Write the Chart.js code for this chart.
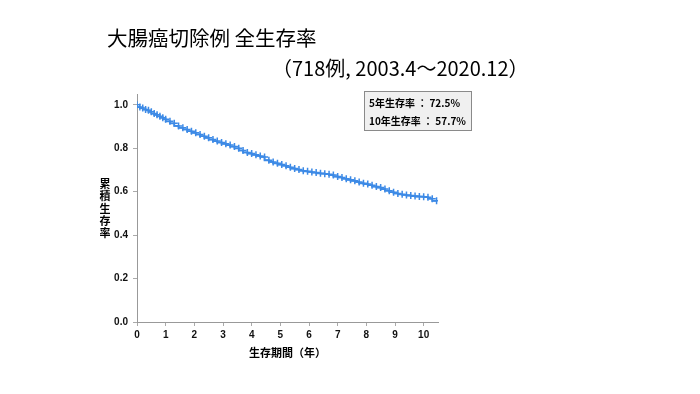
<!DOCTYPE html>
<html>
<head>
<meta charset="utf-8">
<script src="https://cdn.jsdelivr.net/npm/chart.js@4"></script>
<style>
  html, body { margin: 0; padding: 0; background: #fff; }
  #wrap { width: 700px; height: 394px; }
</style>
</head>
<body>
<div id="wrap"><canvas id="km" width="700" height="394"></canvas></div>
<script>
// Kaplan-Meier overall survival
const years = [0, 0.1, 0.2, 0.3, 0.4, 0.5, 0.6, 0.7, 0.8, 0.9, 1.0, 1.15, 1.3, 1.45, 1.6, 1.75, 1.9, 2.05, 2.2, 2.35,
    2.5, 2.65, 2.8, 2.95, 3.1, 3.25, 3.4, 3.55, 3.7, 3.85, 4.0, 4.15, 4.3, 4.45, 4.6, 4.75, 4.9, 5.05, 5.2, 5.35,
    5.5, 5.65, 5.8, 5.95, 6.1, 6.25, 6.4, 6.55, 6.7, 6.85, 7.0, 7.15, 7.3, 7.45, 7.6, 7.75, 7.9, 8.05, 8.2, 8.35,
    8.5, 8.65, 8.8, 8.95, 9.1, 9.25, 9.4, 9.55, 9.7, 9.85, 10.0, 10.15, 10.3, 10.45];
const survival = [1.000, 0.990, 0.985, 0.979, 0.975, 0.968, 0.960, 0.954, 0.947, 0.941, 0.934, 0.924, 0.915, 0.903, 0.894, 0.887, 0.879, 0.871, 0.864, 0.856,
    0.848, 0.840, 0.833, 0.827, 0.821, 0.815, 0.808, 0.800, 0.790, 0.781, 0.776, 0.770, 0.765, 0.760, 0.745, 0.737, 0.731, 0.725, 0.720, 0.713,
    0.707, 0.702, 0.697, 0.694, 0.691, 0.688, 0.685, 0.683, 0.681, 0.677, 0.670, 0.666, 0.660, 0.655, 0.650, 0.645, 0.639, 0.635, 0.630, 0.624,
    0.619, 0.612, 0.605, 0.598, 0.592, 0.588, 0.585, 0.582, 0.580, 0.578, 0.577, 0.575, 0.568, 0.558];
const xTicks = [0, 1, 2, 3, 4, 5, 6, 7, 8, 9, 10];
const yTicks = [0, 0.2, 0.4, 0.6, 0.8, 1.0];
const titleText = '大腸癌切除例 全生存率';
const subtitleText = '（718例, 2003.4～2020.12）';
const yTitleChars = ['累', '積', '生', '存', '率'];
const xTitleText = '生存期間（年）';
const boxLines = ['5年生存率 ： 72.5%', '10年生存率 ： 57.7%'];

const lineColor = '#3d8ae6';
const jpFont = '"Noto Sans CJK JP", "Liberation Sans", sans-serif';

// titles, axis labels and the summary box
const decorations = {
    id: 'decorations',
    afterDraw(chart) {
        const ctx = chart.ctx;
        const area = chart.chartArea;
        ctx.save();
        ctx.fillStyle = '#000';
        ctx.textBaseline = 'middle';

        ctx.font = '20.5px ' + jpFont;
        ctx.textAlign = 'left';
        ctx.fillText(titleText, 107, 38);
        ctx.font = '20px ' + jpFont;
        ctx.fillText(subtitleText, 272, 68);

        // vertical y title
        ctx.font = 'bold 11px ' + jpFont;
        ctx.textAlign = 'center';
        yTitleChars.forEach((ch, i) => ctx.fillText(ch, 105, 184 + i * 12.3));

        // x title
        ctx.fillText(xTitleText, (area.left + area.right) / 2, 353);

        // summary box
        ctx.fillStyle = '#f0f0f0';
        ctx.fillRect(364.5, 91.5, 107, 39);
        ctx.strokeStyle = '#8a8a8a';
        ctx.lineWidth = 1;
        ctx.strokeRect(364.5, 91.5, 107, 39);
        ctx.fillStyle = '#000';
        ctx.textAlign = 'left';
        ctx.font = 'bold 10px ' + jpFont;
        boxLines.forEach((t, i) => ctx.fillText(t, 369, 103 + i * 18));
        ctx.restore();
    }
};

new Chart(document.getElementById('km'), {
    type: 'line',
    data: {
        datasets: [{
            label: '全生存率',
            data: years.map((t, i) => ({ x: t, y: survival[i] })),
            borderColor: lineColor,
            backgroundColor: lineColor,
            borderWidth: 1.8,
            stepped: 'after',
            fill: false,
            pointStyle: 'cross',
            pointRadius: 3.5,
            pointBorderWidth: 1.5,
            pointBorderColor: lineColor
        }]
    },
    options: {
        responsive: false,
        animation: false,
        layout: { padding: { top: 94, right: 262, left: 0, bottom: 0 } },
        plugins: {
            legend: { display: false },
            tooltip: { enabled: false }
        },
        scales: {
            x: {
                type: 'linear',
                min: 0,
                max: 10.5,
                afterFit(scale) { scale.height = 72; },
                afterBuildTicks(scale) { scale.ticks = xTicks.map(v => ({ value: v })); },
                grid: { drawOnChartArea: false, drawTicks: true, tickLength: 4, color: '#aaa' },
                border: { color: '#999', width: 1 },
                ticks: {
                    padding: 3,
                    color: '#111',
                    font: { family: '"Liberation Sans", Arial', size: 10, weight: 'bold' },
                    maxRotation: 0
                }
            },
            y: {
                min: 0,
                max: 1.05,
                afterFit(scale) { scale.width = 137; },
                afterBuildTicks(scale) { scale.ticks = yTicks.map(v => ({ value: v })); },
                grid: { drawOnChartArea: false, drawTicks: true, tickLength: 4, color: '#aaa' },
                border: { color: '#999', width: 1 },
                ticks: {
                    padding: 5,
                    color: '#111',
                    font: { family: '"Liberation Sans", Arial', size: 10, weight: 'bold' },
                    callback: v => v.toFixed(1)
                }
            }
        }
    },
    plugins: [decorations]
});
</script>
</body>
</html>
